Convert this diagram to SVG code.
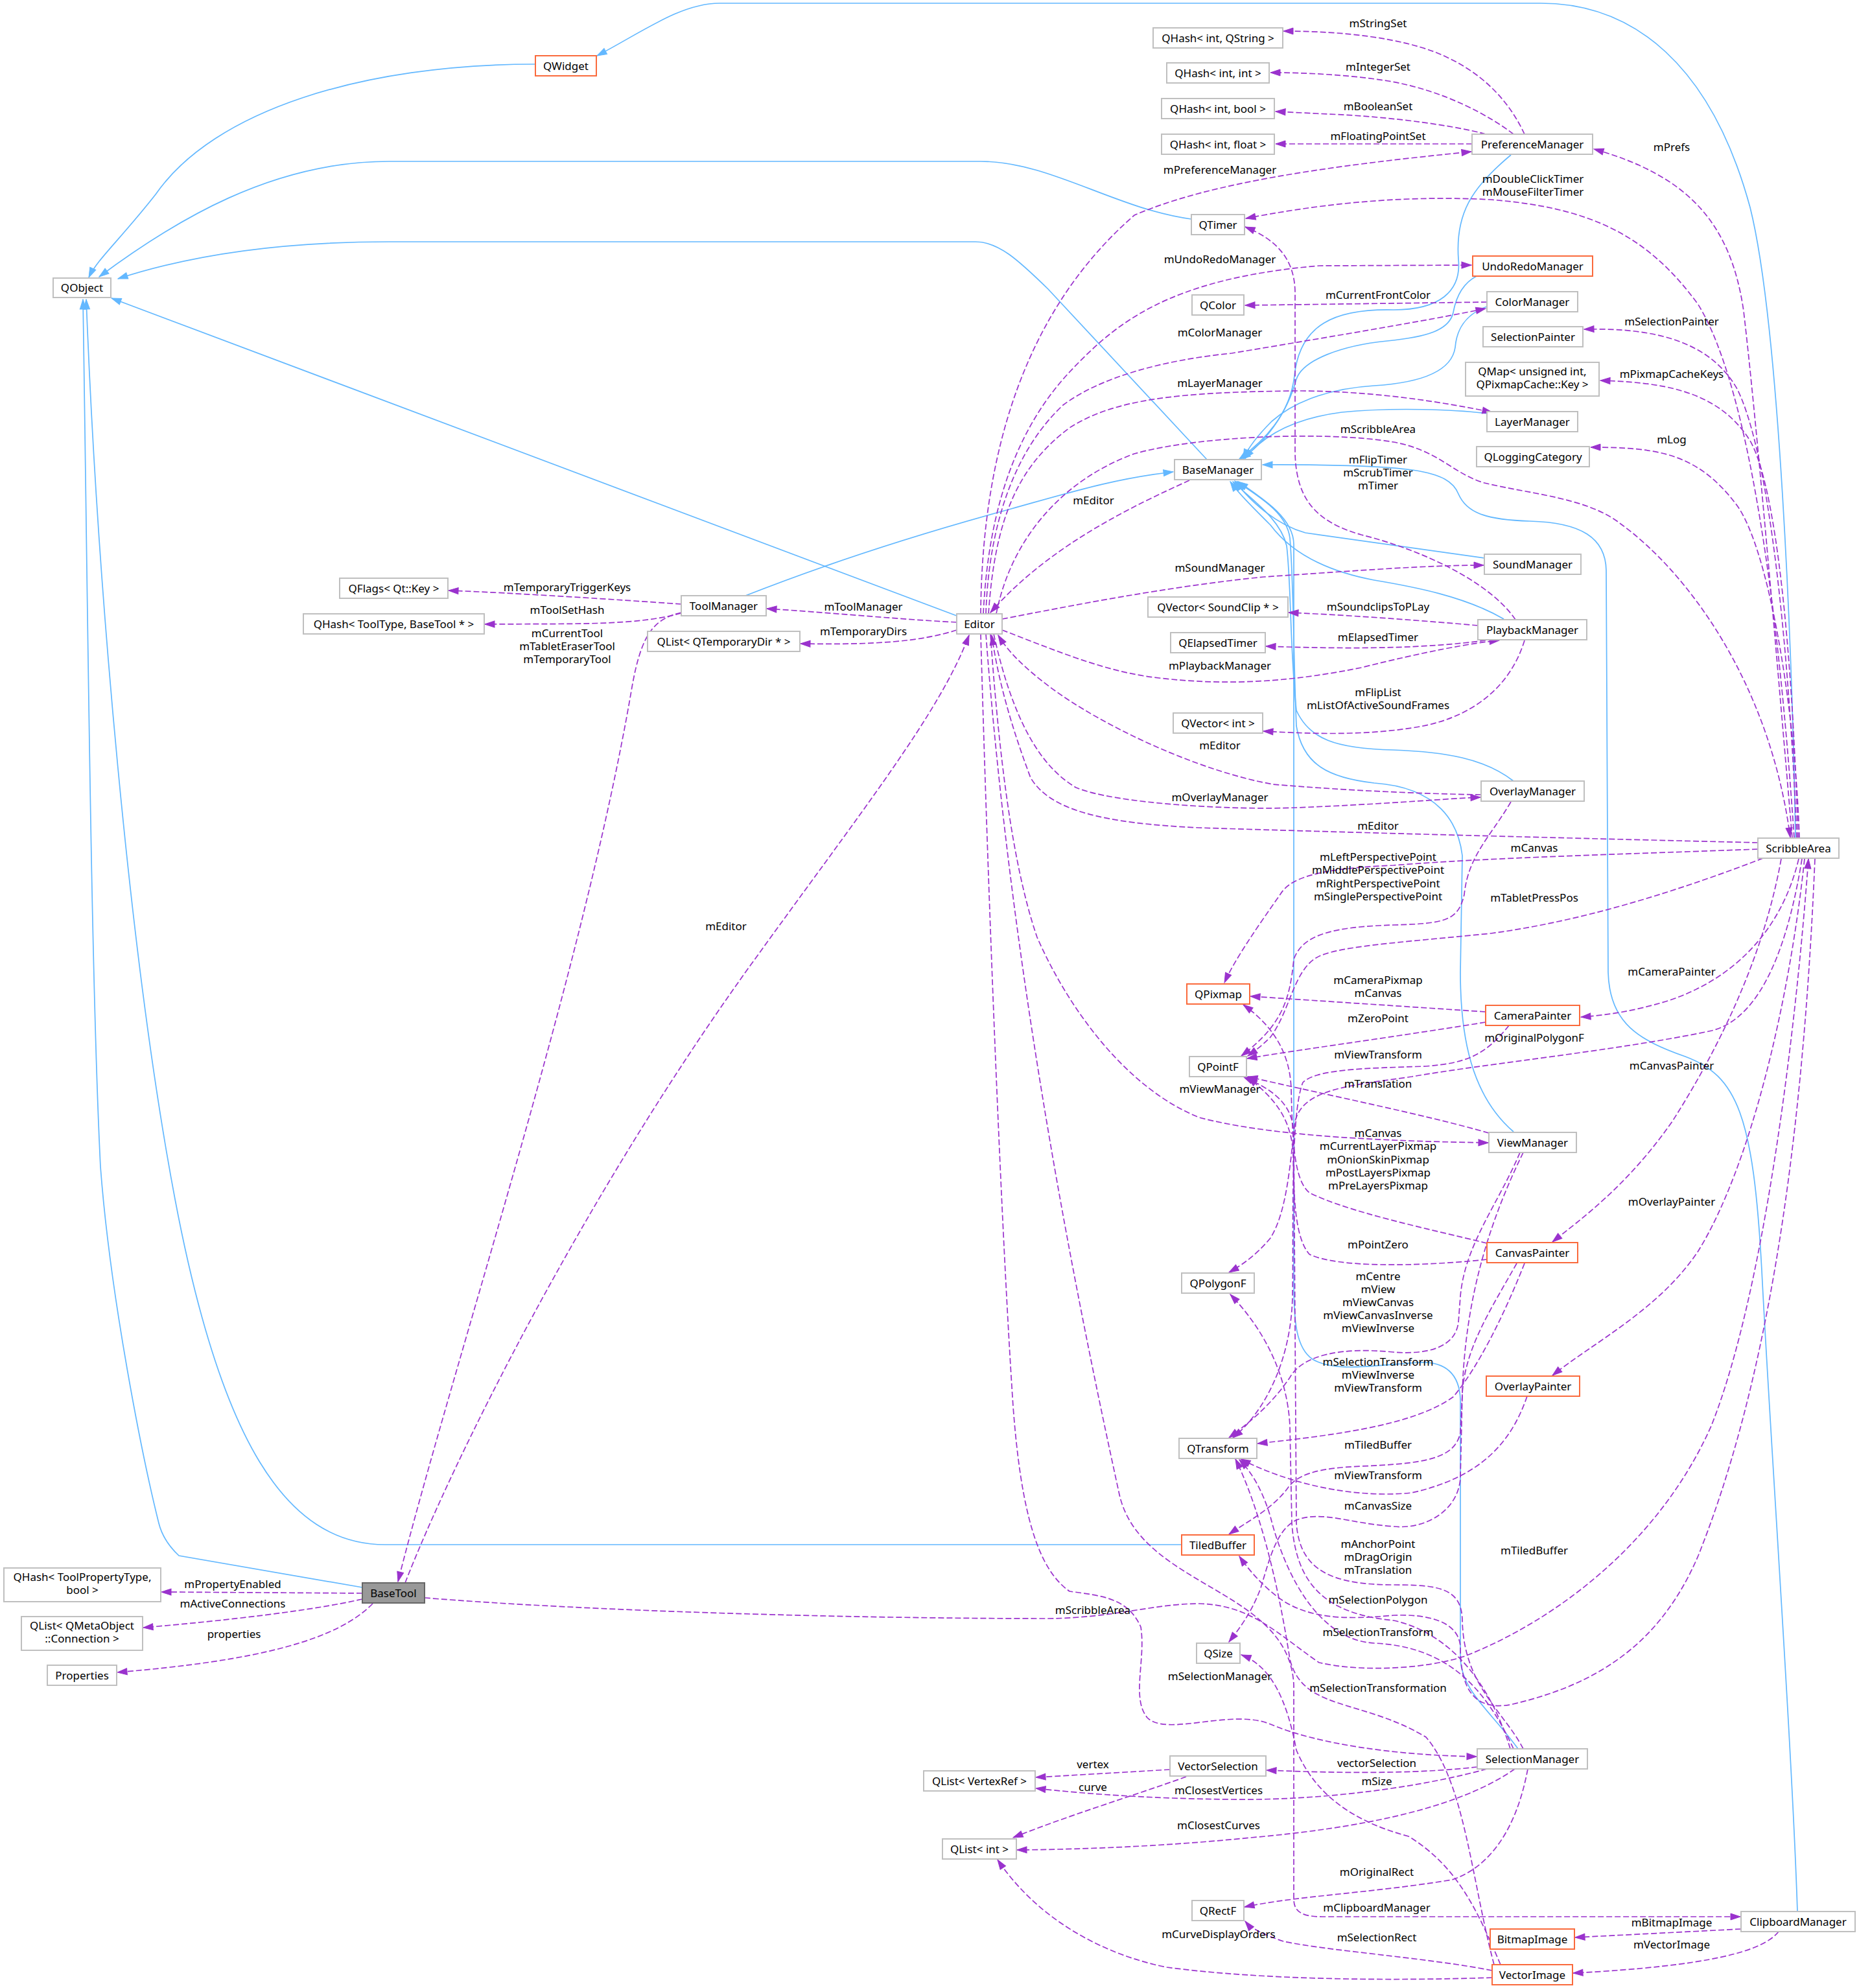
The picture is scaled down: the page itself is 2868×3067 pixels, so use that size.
<svg xmlns="http://www.w3.org/2000/svg" width="2868" height="3067" viewBox="0 0 2868 3067">
<style>
text{font-family:"Noto Sans","Open Sans",sans-serif;font-size:17px;fill:#000}
.node rect{fill:#fff;stroke:#bfbfbf;stroke-width:2}
.node.trunc rect{stroke:#fa6a3c}
.node.cur rect{fill:#999;stroke:#666}
.node text,.lbl{text-anchor:middle}
.inh{fill:none;stroke:#63b8ff;stroke-width:1.7;marker-end:url(#ab)}
.use{fill:none;stroke:#9a32cd;stroke-width:1.7;stroke-dasharray:9,4;marker-end:url(#ap)}
</style>
<defs>
<marker id="ab" viewBox="0 0 17 12" refX="16" refY="6" markerWidth="17" markerHeight="12" markerUnits="userSpaceOnUse" orient="auto"><path d="M1,1 L16,6 L1,11 z" fill="#63b8ff" stroke="#63b8ff"/></marker>
<marker id="ap" viewBox="0 0 17 12" refX="16" refY="6" markerWidth="17" markerHeight="12" markerUnits="userSpaceOnUse" orient="auto"><path d="M1,1 L16,6 L1,11 z" fill="#9a32cd" stroke="#9a32cd"/></marker>
</defs>
<rect width="2868" height="3067" fill="#fff"/>
<g id="connectors">
<path class="inh" d="M826,99 C560,99 330,170 240,300 C185,370 150,400 137,428"/>
<path class="inh" d="M2770,1293 C2765,1000 2745,500 2700,320 C2640,100 2520,5 2377,5 L1110,5 C1050,5 990,50 921,86"/>
<path class="inh" d="M1838,338 C1720,322 1620,249 1513,249 L600,249 C420,249 270,340 153,427"/>
<path class="inh" d="M1862,709 L1617,446 C1570,400 1540,373 1505,373 L600,373 C470,373 320,385 182,430"/>
<path class="inh" d="M1476,950 L172,460"/>
<path class="inh" d="M1150,919 C1300,860 1450,815 1560,785 C1650,760 1720,738 1810,728"/>
<path class="inh" d="M1823,2383 L594,2383 C440,2383 340,2220 270,1850 C200,1480 150,900 133,462"/>
<path class="inh" d="M559,2449 L276,2400 C260,2385 250,2370 245,2350 C220,2250 170,2000 155,1800 C140,1500 135,900 128,462"/>
<path class="inh" d="M2331,239 C2270,290 2245,330 2250,400 C2255,450 2220,478 2150,478 C2060,476 2005,500 1997,580 C1990,640 1950,680 1912,708"/>
<path class="inh" d="M2278,426 C2255,438 2246,460 2242,482 C2236,510 2200,520 2140,526 C2070,533 2010,555 2000,585 C1985,640 1950,685 1914,708"/>
<path class="inh" d="M2294,473 C2260,485 2247,510 2245,536 C2240,570 2200,590 2120,595 C2040,600 1990,625 1962,650 C1940,672 1925,692 1918,708"/>
<path class="inh" d="M2294,638 C2250,632 2150,628 2070,636 C2000,645 1950,670 1920,708"/>
<path class="inh" d="M2290,861 L2014,822 C1970,810 1930,775 1905,742"/>
<path class="inh" d="M2320,955 C2260,920 2180,905 2120,895 C2040,880 1990,850 1960,810 C1930,780 1910,760 1898,743"/>
<path class="inh" d="M2335,1205 C2290,1170 2230,1160 2150,1157 C2060,1155 2020,1140 2000,1096 C1990,1000 1992,900 1985,842 C1975,800 1930,770 1902,743"/>
<path class="inh" d="M2335,1746 C2270,1690 2253,1600 2253,1500 L2256,1320 C2250,1270 2220,1215 2120,1208 C2050,1200 2010,1180 2000,1120 C1995,1000 1996,900 1990,830 C1985,790 1940,765 1908,743"/>
<path class="inh" d="M2342,2698 C2300,2640 2256,2610 2253,2560 L2253,2160 C2252,2120 2230,2100 2190,2102 C2120,2106 2060,2118 2025,2097 C2000,2080 1996,2040 1996,1980 L1996,840 C1996,800 1950,770 1910,743"/>
<path class="inh" d="M2773,2949 C2765,2700 2730,2200 2718,1960 C2705,1720 2680,1660 2600,1630 C2530,1605 2483,1580 2481,1500 L2478,880 C2477,830 2440,806 2360,804 C2290,802 2262,790 2250,762 C2235,725 2180,716 1948,717"/>

<path class="use" d="M2352,207 C2330,160 2290,110 2213,80 C2160,60 2080,48 1980,48"/>
<path class="use" d="M2335,207 C2300,180 2230,140 2142,125 C2080,115 2010,112 1960,112"/>
<path class="use" d="M2292,207 C2250,195 2150,180 2049,176 L1968,172"/>
<path class="use" d="M2271,222 L1968,222"/>
<path class="use" d="M1513,947 C1515,700 1580,480 1750,332 C1870,280 2060,255 2270,234"/>
<path class="use" d="M1517,947 C1525,780 1570,660 1650,574 C1720,500 1800,430 2035,410 L2270,409"/>
<path class="use" d="M1521,947 C1525,820 1560,700 1640,625 C1700,580 1800,555 1900,545 C2050,520 2200,495 2292,476"/>
<path class="use" d="M1525,947 C1535,800 1570,720 1650,660 C1720,615 1820,605 2000,603 C2100,603 2200,615 2302,636"/>
<path class="use" d="M1537,947 C1560,830 1640,740 1750,700 C1850,672 2050,665 2150,682 C2220,695 2240,730 2290,745 C2360,762 2450,768 2500,808 C2600,880 2730,1050 2762,1292"/>
<path class="use" d="M1835,741 C1750,780 1620,840 1528,945"/>
<path class="use" d="M1546,955 C1650,935 1800,905 1950,890 C2100,880 2200,872 2289,872"/>
<path class="use" d="M1546,972 C1620,1000 1700,1035 1780,1045 C1900,1060 2000,1050 2100,1030 C2200,1005 2270,992 2313,988"/>
<path class="use" d="M2285,1226 C2150,1224 2020,1215 1964,1210 C1850,1190 1700,1120 1620,1060 C1580,1030 1555,1005 1540,980"/>
<path class="use" d="M1533,978 C1560,1100 1600,1180 1660,1215 C1720,1240 1900,1250 2000,1246 C2150,1240 2230,1232 2284,1230"/>
<path class="use" d="M2712,1300 C2500,1295 2100,1285 1850,1277 C1700,1270 1620,1250 1590,1200 C1560,1120 1540,1050 1530,980"/>
<path class="use" d="M1528,978 C1540,1150 1560,1330 1600,1446 C1650,1560 1740,1680 1850,1724 C1950,1750 2100,1760 2296,1763"/>
<path class="use" d="M1476,960 C1380,955 1280,945 1183,939"/>
<path class="use" d="M1476,972 C1420,990 1350,995 1235,993"/>
<path class="use" d="M1051,932 C950,925 800,915 692,911"/>
<path class="use" d="M1051,946 C980,965 900,962 748,963"/>
<path class="use" d="M1051,945 C1010,955 990,975 975,1060 C900,1500 700,2100 614,2440"/>
<path class="use" d="M625,2442 C700,2250 900,1850 1150,1500 C1330,1250 1450,1100 1495,980"/>
<path class="use" d="M655,2465 C900,2485 1300,2497 1617,2497 C1720,2496 1780,2474 1850,2474 C1930,2476 1970,2520 2035,2565 C2100,2580 2200,2575 2260,2555 C2400,2500 2560,2380 2640,2200 C2720,2000 2770,1600 2790,1325"/>
<path class="use" d="M2800,1325 C2780,1800 2720,2150 2620,2400 C2560,2540 2460,2600 2330,2630 C2270,2640 2253,2600 2253,2540 C2250,2500 2200,2490 2150,2492 C2070,2500 2020,2495 1980,2470 C1950,2450 1925,2420 1912,2401"/>
<path class="use" d="M1513,978 C1525,1400 1545,1900 1563,2170 C1575,2330 1600,2420 1650,2455 C1700,2462 1740,2465 1760,2510 C1768,2560 1745,2620 1770,2650 C1800,2680 1900,2635 1960,2660 C2030,2690 2150,2708 2278,2710"/>
<path class="use" d="M1521,978 C1560,1500 1660,2000 1727,2306 C1760,2450 1990,2450 1996,2600 L1996,2930 C1996,2950 2010,2957 2040,2957 L2685,2957"/>
<path class="use" d="M2294,466 L1921,471"/>
<path class="use" d="M2765,1293 C2740,1000 2710,650 2690,480 C2670,340 2600,270 2459,230"/>
<path class="use" d="M2768,1293 C2745,950 2700,600 2620,470 C2540,360 2450,320 2300,308 C2150,300 2020,318 1922,337"/>
<path class="use" d="M2772,1293 C2760,1000 2730,700 2680,600 C2640,530 2560,505 2444,508"/>
<path class="use" d="M2774,1293 C2765,1000 2740,750 2700,680 C2650,600 2560,590 2469,587"/>
<path class="use" d="M2776,1293 C2770,1100 2730,850 2680,780 C2620,700 2560,690 2454,690"/>
<path class="use" d="M2712,1310 C2500,1318 2300,1323 2150,1335 C2030,1340 1990,1355 1975,1380 C1940,1430 1905,1480 1889,1516"/>
<path class="use" d="M2720,1324 C2600,1370 2450,1420 2300,1440 C2150,1455 2060,1460 2030,1478 C1995,1500 1990,1560 1960,1600 C1945,1615 1935,1622 1925,1629"/>
<path class="use" d="M2775,1325 C2750,1430 2680,1510 2570,1545 C2520,1560 2480,1566 2439,1569"/>
<path class="use" d="M2780,1325 C2760,1450 2720,1570 2641,1590 C2500,1620 2300,1640 2178,1661 C2080,1675 2010,1680 1998,1730 C1990,1800 1985,1870 1960,1910 C1935,1940 1910,1955 1896,1963"/>
<path class="use" d="M2748,1325 C2720,1480 2650,1620 2580,1730 C2510,1830 2440,1880 2395,1916"/>
<path class="use" d="M2784,1325 C2760,1550 2700,1800 2620,1930 C2560,2020 2460,2070 2395,2122"/>
<path class="use" d="M2280,965 C2200,958 2100,950 1988,945"/>
<path class="use" d="M2292,988 C2200,1000 2100,1002 1953,997"/>
<path class="use" d="M2352,988 C2330,1060 2270,1110 2178,1123 C2100,1135 2020,1132 1949,1128"/>
<path class="use" d="M2338,956 C2300,900 2200,850 2100,825 C2030,805 2000,770 1998,700 L1998,450 C1997,400 1970,370 1921,350"/>
<path class="use" d="M2331,1237 C2300,1290 2265,1320 2259,1380 C2250,1420 2230,1425 2150,1427 C2060,1430 2010,1440 1996,1480 C1990,1540 1980,1580 1915,1629"/>
<path class="use" d="M2292,1561 L1929,1537"/>
<path class="use" d="M2292,1577 C2150,1600 2000,1620 1924,1633"/>
<path class="use" d="M2328,1582 C2290,1630 2260,1640 2200,1645 C2100,1648 2030,1650 2010,1670 C1990,1720 1996,1900 1994,2000 C1992,2100 1950,2180 1902,2218"/>
<path class="use" d="M2297,1748 C2200,1720 2050,1690 1925,1661"/>
<path class="use" d="M2345,1778 C2310,1860 2260,1920 2253,2000 L2250,2040 C2245,2080 2200,2090 2150,2086 C2070,2078 2010,2090 1990,2125 C1960,2170 1920,2200 1896,2218"/>
<path class="use" d="M2350,1778 C2300,1880 2260,2000 2256,2150 L2253,2280 C2250,2330 2200,2360 2150,2355 C2080,2350 2040,2330 2000,2345 C1970,2360 1960,2400 1945,2450 C1930,2490 1910,2515 1896,2533"/>
<path class="use" d="M2294,1918 C2200,1895 2080,1870 2020,1840 C1996,1820 1994,1760 1992,1680 C1990,1620 1960,1580 1918,1550"/>
<path class="use" d="M2294,1943 C2180,1955 2060,1955 2020,1935 C1998,1910 1996,1850 1995,1780 C1992,1720 1960,1690 1925,1662"/>
<path class="use" d="M2352,1949 C2320,2030 2280,2110 2242,2155 C2180,2200 2050,2215 1940,2227"/>
<path class="use" d="M2340,1949 C2300,2020 2260,2080 2256,2150 L2253,2210 C2245,2250 2200,2258 2100,2262 C2030,2265 2000,2275 1985,2298 C1960,2330 1920,2350 1896,2367"/>
<path class="use" d="M2356,2154 C2330,2230 2280,2280 2178,2303 C2090,2312 1990,2290 1914,2251"/>
<path class="use" d="M2350,2698 C2320,2640 2258,2600 2256,2500 C2255,2450 2220,2445 2150,2445 C2050,2445 2005,2420 2000,2350 L1996,1750 C1995,1700 1960,1680 1918,1661"/>
<path class="use" d="M2330,2698 C2300,2600 2240,2520 2150,2500 C2050,2490 2000,2450 1993,2350 L1990,2200 C1985,2100 1930,2030 1898,1997"/>
<path class="use" d="M2335,2698 C2290,2600 2230,2540 2120,2535 C2030,2530 1980,2420 1960,2340 C1945,2290 1925,2265 1912,2252"/>
<path class="use" d="M2279,2726 C2200,2735 2100,2737 1954,2731"/>
<path class="use" d="M2294,2729 C2200,2755 2050,2778 1900,2776 C1780,2775 1680,2768 1598,2759"/>
<path class="use" d="M2337,2729 C2250,2790 2100,2820 1930,2835 C1800,2848 1680,2853 1569,2854"/>
<path class="use" d="M2357,2729 C2340,2820 2300,2880 2240,2900 C2120,2920 2000,2925 1920,2942"/>
<path class="use" d="M1805,2730 L1598,2742"/>
<path class="use" d="M1830,2741 C1750,2770 1650,2800 1563,2835"/>
<path class="use" d="M2315,3031 C2280,2950 2250,2880 2173,2833 C2086,2810 2028,2767 2000,2700 C1985,2620 1960,2570 1915,2553"/>
<path class="use" d="M2305,3031 C2270,2900 2260,2750 2200,2680 C2100,2620 2010,2640 1990,2560 C1970,2430 1940,2320 1906,2251"/>
<path class="use" d="M2302,3040 C2200,3020 2050,3010 1980,2995 C1950,2985 1930,2975 1921,2964"/>
<path class="use" d="M2302,3051 C2150,3056 1950,3055 1800,3035 C1700,3015 1600,2960 1539,2869"/>
<path class="use" d="M2686,2976 L2430,2989"/>
<path class="use" d="M2744,2980 C2720,3010 2640,3033 2427,3044"/>
<path class="use" d="M559,2458 L249,2456"/>
<path class="use" d="M559,2467 C480,2485 350,2500 221,2511"/>
<path class="use" d="M575,2474 C520,2530 400,2562 181,2580"/>

<g id="edge-labels">
<text class="lbl" x="2126" y="42">mStringSet</text>
<text class="lbl" x="2126" y="109">mIntegerSet</text>
<text class="lbl" x="2126" y="170">mBooleanSet</text>
<text class="lbl" x="2126" y="216">mFloatingPointSet</text>
<text class="lbl" x="1882" y="268">mPreferenceManager</text>
<text class="lbl" x="2579" y="233">mPrefs</text>
<text class="lbl" x="2365" y="282">mDoubleClickTimer</text>
<text class="lbl" x="2365" y="302">mMouseFilterTimer</text>
<text class="lbl" x="1882" y="406">mUndoRedoManager</text>
<text class="lbl" x="2126" y="461">mCurrentFrontColor</text>
<text class="lbl" x="1882" y="519">mColorManager</text>
<text class="lbl" x="2579" y="502">mSelectionPainter</text>
<text class="lbl" x="2579" y="583">mPixmapCacheKeys</text>
<text class="lbl" x="1882" y="597">mLayerManager</text>
<text class="lbl" x="2126" y="668">mScribbleArea</text>
<text class="lbl" x="2579" y="684">mLog</text>
<text class="lbl" x="2126" y="715">mFlipTimer</text>
<text class="lbl" x="2126" y="735">mScrubTimer</text>
<text class="lbl" x="2126" y="755">mTimer</text>
<text class="lbl" x="1687" y="778">mEditor</text>
<text class="lbl" x="1882" y="882">mSoundManager</text>
<text class="lbl" x="2126" y="942">mSoundclipsToPLay</text>
<text class="lbl" x="2126" y="989">mElapsedTimer</text>
<text class="lbl" x="1882" y="1033">mPlaybackManager</text>
<text class="lbl" x="2126" y="1074">mFlipList</text>
<text class="lbl" x="2126" y="1094">mListOfActiveSoundFrames</text>
<text class="lbl" x="1882" y="1156">mEditor</text>
<text class="lbl" x="1882" y="1236">mOverlayManager</text>
<text class="lbl" x="2126" y="1280">mEditor</text>
<text class="lbl" x="2367" y="1314">mCanvas</text>
<text class="lbl" x="2126" y="1328">mLeftPerspectivePoint</text>
<text class="lbl" x="2126" y="1348">mMiddlePerspectivePoint</text>
<text class="lbl" x="2126" y="1369">mRightPerspectivePoint</text>
<text class="lbl" x="2126" y="1389">mSinglePerspectivePoint</text>
<text class="lbl" x="2367" y="1391">mTabletPressPos</text>
<text class="lbl" x="2579" y="1505">mCameraPainter</text>
<text class="lbl" x="2126" y="1518">mCameraPixmap</text>
<text class="lbl" x="2126" y="1538">mCanvas</text>
<text class="lbl" x="2126" y="1577">mZeroPoint</text>
<text class="lbl" x="2367" y="1607">mOriginalPolygonF</text>
<text class="lbl" x="2126" y="1633">mViewTransform</text>
<text class="lbl" x="2579" y="1650">mCanvasPainter</text>
<text class="lbl" x="2126" y="1678">mTranslation</text>
<text class="lbl" x="1882" y="1686">mViewManager</text>
<text class="lbl" x="2126" y="1754">mCanvas</text>
<text class="lbl" x="2126" y="1774">mCurrentLayerPixmap</text>
<text class="lbl" x="2126" y="1795">mOnionSkinPixmap</text>
<text class="lbl" x="2126" y="1815">mPostLayersPixmap</text>
<text class="lbl" x="2126" y="1835">mPreLayersPixmap</text>
<text class="lbl" x="2579" y="1860">mOverlayPainter</text>
<text class="lbl" x="2126" y="1926">mPointZero</text>
<text class="lbl" x="2126" y="1975">mCentre</text>
<text class="lbl" x="2126" y="1995">mView</text>
<text class="lbl" x="2126" y="2015">mViewCanvas</text>
<text class="lbl" x="2126" y="2035">mViewCanvasInverse</text>
<text class="lbl" x="2126" y="2055">mViewInverse</text>
<text class="lbl" x="2126" y="2107">mSelectionTransform</text>
<text class="lbl" x="2126" y="2127">mViewInverse</text>
<text class="lbl" x="2126" y="2147">mViewTransform</text>
<text class="lbl" x="2126" y="2235">mTiledBuffer</text>
<text class="lbl" x="2126" y="2282">mViewTransform</text>
<text class="lbl" x="2126" y="2329">mCanvasSize</text>
<text class="lbl" x="2126" y="2388">mAnchorPoint</text>
<text class="lbl" x="2126" y="2408">mDragOrigin</text>
<text class="lbl" x="2126" y="2428">mTranslation</text>
<text class="lbl" x="2367" y="2398">mTiledBuffer</text>
<text class="lbl" x="2126" y="2474">mSelectionPolygon</text>
<text class="lbl" x="1686" y="2490">mScribbleArea</text>
<text class="lbl" x="2126" y="2524">mSelectionTransform</text>
<text class="lbl" x="1882" y="2592">mSelectionManager</text>
<text class="lbl" x="2126" y="2610">mSelectionTransformation</text>
<text class="lbl" x="1686" y="2728">vertex</text>
<text class="lbl" x="2124" y="2726">vectorSelection</text>
<text class="lbl" x="1686" y="2763">curve</text>
<text class="lbl" x="1880" y="2768">mClosestVertices</text>
<text class="lbl" x="2124" y="2754">mSize</text>
<text class="lbl" x="1880" y="2822">mClosestCurves</text>
<text class="lbl" x="2124" y="2894">mOriginalRect</text>
<text class="lbl" x="2124" y="2949">mClipboardManager</text>
<text class="lbl" x="2579" y="2972">mBitmapImage</text>
<text class="lbl" x="1880" y="2990">mCurveDisplayOrders</text>
<text class="lbl" x="2124" y="2995">mSelectionRect</text>
<text class="lbl" x="2579" y="3006">mVectorImage</text>
<text class="lbl" x="1332" y="942">mToolManager</text>
<text class="lbl" x="1332" y="980">mTemporaryDirs</text>
<text class="lbl" x="875" y="912">mTemporaryTriggerKeys</text>
<text class="lbl" x="875" y="947">mToolSetHash</text>
<text class="lbl" x="875" y="983">mCurrentTool</text>
<text class="lbl" x="875" y="1003">mTabletEraserTool</text>
<text class="lbl" x="875" y="1023">mTemporaryTool</text>
<text class="lbl" x="1120" y="1435">mEditor</text>
<text class="lbl" x="359" y="2450">mPropertyEnabled</text>
<text class="lbl" x="359" y="2480">mActiveConnections</text>
<text class="lbl" x="361" y="2527">properties</text>
</g>
</g>

<g id="n-QWidget" class="node trunc"><rect x="826" y="86" width="94" height="31"/><text x="873" y="107.5">QWidget</text></g>
<g id="n-QObject" class="node"><rect x="82" y="429" width="89" height="30"/><text x="126.5" y="450">QObject</text></g>
<g id="n-QHashIntQString" class="node"><rect x="1779" y="43" width="200" height="31"/><text x="1879" y="64.5">QHash&lt; int, QString &gt;</text></g>
<g id="n-QHashIntInt" class="node"><rect x="1800" y="97" width="158" height="31"/><text x="1879" y="118.5">QHash&lt; int, int &gt;</text></g>
<g id="n-QHashIntBool" class="node"><rect x="1792" y="152" width="174" height="31"/><text x="1879" y="173.5">QHash&lt; int, bool &gt;</text></g>
<g id="n-QHashIntFloat" class="node"><rect x="1792" y="207" width="174" height="31"/><text x="1879" y="228.5">QHash&lt; int, float &gt;</text></g>
<g id="n-PreferenceManager" class="node"><rect x="2271" y="207" width="186" height="31"/><text x="2364" y="228.5">PreferenceManager</text></g>
<g id="n-QTimer" class="node"><rect x="1838" y="331" width="82" height="31"/><text x="1879" y="352.5">QTimer</text></g>
<g id="n-UndoRedoManager" class="node trunc"><rect x="2272" y="395" width="185" height="31"/><text x="2364.5" y="416.5">UndoRedoManager</text></g>
<g id="n-QColor" class="node"><rect x="1839" y="455" width="80" height="31"/><text x="1879" y="476.5">QColor</text></g>
<g id="n-ColorManager" class="node"><rect x="2294" y="450" width="140" height="31"/><text x="2364" y="471.5">ColorManager</text></g>
<g id="n-SelectionPainter" class="node"><rect x="2288" y="504" width="154" height="31"/><text x="2365" y="525.5">SelectionPainter</text></g>
<g id="n-QMap" class="node"><rect x="2261" y="559" width="206" height="52"/><text x="2364" y="579">QMap&lt; unsigned int,</text><text x="2364" y="599">QPixmapCache::Key &gt;</text></g>
<g id="n-LayerManager" class="node"><rect x="2294" y="635" width="140" height="31"/><text x="2364" y="656.5">LayerManager</text></g>
<g id="n-QLoggingCategory" class="node"><rect x="2278" y="689" width="174" height="31"/><text x="2365" y="710.5">QLoggingCategory</text></g>
<g id="n-BaseManager" class="node"><rect x="1812" y="709" width="134" height="31"/><text x="1879" y="730.5">BaseManager</text></g>
<g id="n-SoundManager" class="node"><rect x="2290" y="855" width="149" height="31"/><text x="2364.5" y="876.5">SoundManager</text></g>
<g id="n-QVectorSoundClip" class="node"><rect x="1771" y="921" width="216" height="31"/><text x="1879" y="942.5">QVector&lt; SoundClip * &gt;</text></g>
<g id="n-PlaybackManager" class="node"><rect x="2280" y="956" width="168" height="31"/><text x="2364" y="977.5">PlaybackManager</text></g>
<g id="n-QElapsedTimer" class="node"><rect x="1806" y="976" width="146" height="31"/><text x="1879" y="997.5">QElapsedTimer</text></g>
<g id="n-QVectorInt" class="node"><rect x="1810" y="1100" width="138" height="31"/><text x="1879" y="1121.5">QVector&lt; int &gt;</text></g>
<g id="n-OverlayManager" class="node"><rect x="2285" y="1205" width="159" height="31"/><text x="2364.5" y="1226.5">OverlayManager</text></g>
<g id="n-ScribbleArea" class="node"><rect x="2712" y="1293" width="125" height="31"/><text x="2774.5" y="1314.5">ScribbleArea</text></g>
<g id="n-QPixmap" class="node trunc"><rect x="1831" y="1518" width="97" height="31"/><text x="1879.5" y="1539.5">QPixmap</text></g>
<g id="n-CameraPainter" class="node trunc"><rect x="2292" y="1551" width="145" height="31"/><text x="2364.5" y="1572.5">CameraPainter</text></g>
<g id="n-QPointF" class="node"><rect x="1835" y="1630" width="88" height="31"/><text x="1879" y="1651.5">QPointF</text></g>
<g id="n-ViewManager" class="node"><rect x="2297" y="1747" width="135" height="31"/><text x="2364.5" y="1768.5">ViewManager</text></g>
<g id="n-CanvasPainter" class="node trunc"><rect x="2294" y="1917" width="140" height="31"/><text x="2364" y="1938.5">CanvasPainter</text></g>
<g id="n-QPolygonF" class="node"><rect x="1823" y="1964" width="112" height="31"/><text x="1879" y="1985.5">QPolygonF</text></g>
<g id="n-OverlayPainter" class="node trunc"><rect x="2293" y="2123" width="144" height="31"/><text x="2365" y="2144.5">OverlayPainter</text></g>
<g id="n-QTransform" class="node"><rect x="1819" y="2219" width="120" height="31"/><text x="1879" y="2240.5">QTransform</text></g>
<g id="n-TiledBuffer" class="node trunc"><rect x="1823" y="2368" width="112" height="31"/><text x="1879" y="2389.5">TiledBuffer</text></g>
<g id="n-QSize" class="node"><rect x="1846" y="2535" width="67" height="31"/><text x="1879.5" y="2556.5">QSize</text></g>
<g id="n-SelectionManager" class="node"><rect x="2279" y="2698" width="170" height="31"/><text x="2364" y="2719.5">SelectionManager</text></g>
<g id="n-VectorSelection" class="node"><rect x="1805" y="2709" width="148" height="31"/><text x="1879" y="2730.5">VectorSelection</text></g>
<g id="n-QListVertexRef" class="node"><rect x="1425" y="2732" width="172" height="31"/><text x="1511" y="2753.5">QList&lt; VertexRef &gt;</text></g>
<g id="n-QListInt" class="node"><rect x="1454" y="2837" width="114" height="31"/><text x="1511" y="2858.5">QList&lt; int &gt;</text></g>
<g id="n-QRectF" class="node"><rect x="1839" y="2932" width="80" height="31"/><text x="1879" y="2953.5">QRectF</text></g>
<g id="n-ClipboardManager" class="node"><rect x="2686" y="2949" width="176" height="31"/><text x="2774" y="2970.5">ClipboardManager</text></g>
<g id="n-BitmapImage" class="node trunc"><rect x="2299" y="2976" width="130" height="31"/><text x="2364" y="2997.5">BitmapImage</text></g>
<g id="n-VectorImage" class="node trunc"><rect x="2302" y="3031" width="124" height="31"/><text x="2364" y="3052.5">VectorImage</text></g>
<g id="n-BaseTool" class="node cur"><rect x="559" y="2442" width="96" height="31"/><text x="607" y="2463.5">BaseTool</text></g>
<g id="n-QHashToolPropertyType" class="node"><rect x="6" y="2419" width="242" height="52"/><text x="127" y="2439">QHash&lt; ToolPropertyType,</text><text x="127" y="2459">bool &gt;</text></g>
<g id="n-QListQMetaObjectConnection" class="node"><rect x="33" y="2494" width="187" height="52"/><text x="126.5" y="2514">QList&lt; QMetaObject</text><text x="126.5" y="2534">::Connection &gt;</text></g>
<g id="n-Properties" class="node"><rect x="73" y="2569" width="107" height="31"/><text x="126.5" y="2590.5">Properties</text></g>
<g id="n-QFlags" class="node"><rect x="524" y="892" width="167" height="31"/><text x="607.5" y="913.5">QFlags&lt; Qt::Key &gt;</text></g>
<g id="n-ToolManager" class="node"><rect x="1051" y="919" width="131" height="31"/><text x="1116.5" y="940.5">ToolManager</text></g>
<g id="n-QHashToolType" class="node"><rect x="468" y="947" width="279" height="31"/><text x="607.5" y="968.5">QHash&lt; ToolType, BaseTool * &gt;</text></g>
<g id="n-QListQTemporaryDir" class="node"><rect x="999" y="974" width="235" height="31"/><text x="1116.5" y="995.5">QList&lt; QTemporaryDir * &gt;</text></g>
<g id="n-Editor" class="node"><rect x="1476" y="947" width="70" height="31"/><text x="1511" y="968.5">Editor</text></g>
</svg>
